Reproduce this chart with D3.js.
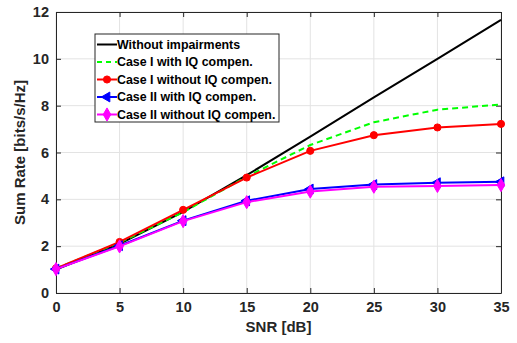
<!DOCTYPE html>
<html><head><meta charset="utf-8">
<script src="https://cdn.jsdelivr.net/npm/d3@7"></script>
<style>body{margin:0;background:#fff}svg{display:block}text{font-family:"Liberation Sans",Arial,sans-serif;font-weight:bold}</style>
</head><body><svg id="c" width="517" height="343"></svg>
<script>
const snr = [0,5,10,15,20,25,30,35];
const noImpair = [1.0,2.1,3.46,5.03,6.68,8.35,10.0,11.66];
const case1With = [1.05,2.15,3.45,4.97,6.32,7.29,7.83,8.05];
const case1Without = [1.05,2.18,3.55,4.93,6.07,6.74,7.07,7.22];
const case2With = [1.02,2.02,3.09,3.94,4.44,4.63,4.71,4.75];
const case2Without = [1.02,1.99,3.07,3.88,4.33,4.54,4.57,4.61];
const xTicks = [0,5,10,15,20,25,30,35];
const yTicks = [0,2,4,6,8,10,12];
const names = ["Without impairments","Case I with IQ compen.","Case I without IQ compen.","Case II with IQ compen.","Case II without IQ compen."];

const series = [
 {name:names[0], vals:noImpair, color:"#000000", dash:null, marker:null},
 {name:names[1], vals:case1With, color:"#00ff00", dash:"6,4", marker:null},
 {name:names[2], vals:case1Without, color:"#ff0000", dash:null, marker:"circle"},
 {name:names[3], vals:case2With, color:"#0000ff", dash:null, marker:"triangle"},
 {name:names[4], vals:case2Without, color:"#ff00ff", dash:null, marker:"diamond"}
];

const L=56,R=501,T=12,B=293;
const x=d3.scaleLinear().domain([0,35]).range([L,R]);
const y=d3.scaleLinear().domain([0,12]).range([B,T]);
const svg=d3.select("#c");

// grid
svg.append("g").selectAll("line").data(xTicks).join("line")
 .attr("x1",d=>x(d)).attr("x2",d=>x(d)).attr("y1",T).attr("y2",B)
 .attr("stroke","#e3e3e3").attr("stroke-width",1);
svg.append("g").selectAll("line").data(yTicks).join("line")
 .attr("y1",d=>y(d)).attr("y2",d=>y(d)).attr("x1",L).attr("x2",R)
 .attr("stroke","#e3e3e3").attr("stroke-width",1);

// axes
const ax=d3.axisBottom(x).tickValues(xTicks).tickSizeInner(-5).tickSizeOuter(0).tickPadding(9);
const ay=d3.axisLeft(y).tickValues(yTicks).tickSizeInner(-5).tickSizeOuter(0).tickPadding(7);
const gx=svg.append("g").attr("transform",`translate(0,${B})`).call(ax);
const gy=svg.append("g").attr("transform",`translate(${L},0)`).call(ay);
const gxt=svg.append("g").attr("transform",`translate(0,${T})`).call(d3.axisTop(x).tickValues(xTicks).tickSizeInner(-5).tickSizeOuter(0).tickFormat(""));
const gyr=svg.append("g").attr("transform",`translate(${R},0)`).call(d3.axisRight(y).tickValues(yTicks).tickSizeInner(-5).tickSizeOuter(0).tickFormat(""));
[gx,gy,gxt,gyr].forEach(g=>{
 g.select(".domain").attr("stroke","#262626").attr("stroke-width",1);
 g.selectAll(".tick line").attr("stroke","#262626");
 g.selectAll(".tick text").attr("fill","#262626").style("font-size","14.5px").style("font-weight","bold").style("font-family","'Liberation Sans',Arial,sans-serif");
});

// lines
const line=d3.line().x((d,i)=>x(snr[i])).y(d=>y(d));
const sym={circle:d3.symbol().type(d3.symbolCircle).size(40),
 triangle:d3.symbol().type(d3.symbolTriangle).size(42),
 diamond:d3.symbol().type(d3.symbolDiamond).size(50)};
function drawMarker(g,type,cx,cy,color){
 const p=g.append("path").attr("d",sym[type]()).attr("fill",color).attr("stroke",color).attr("stroke-width",1);
 if(type==="triangle") p.attr("transform",`translate(${cx},${cy}) rotate(-90)`);
 else p.attr("transform",`translate(${cx},${cy})`);
}
series.forEach(s=>{
 const g=svg.append("g");
 g.append("path").datum(s.vals).attr("d",line).attr("fill","none").attr("stroke",s.color)
  .attr("stroke-width",2).attr("stroke-dasharray",s.dash);
 if(s.marker) s.vals.forEach((v,i)=>drawMarker(g,s.marker,x(snr[i]),y(v),s.color));
});

// legend
const lg=svg.append("g");
lg.append("rect").attr("x",95).attr("y",34).attr("width",184).attr("height",88)
 .attr("fill","#fff").attr("stroke","#262626").attr("stroke-width",1);
const rowY=[44.5,62,79.5,97,114.5];
series.forEach((s,i)=>{
 const yy=rowY[i];
 lg.append("line").attr("x1",97).attr("x2",117).attr("y1",yy).attr("y2",yy)
  .attr("stroke",s.color).attr("stroke-width",2).attr("stroke-dasharray",s.dash?"5,4":null);
 if(s.marker) drawMarker(lg,s.marker,107,yy,s.color);
 lg.append("text").attr("x",117).attr("y",yy).attr("dy","0.35em").text(s.name)
  .style("font-size","12.4px").attr("fill","#000");
});

// axis labels
svg.append("text").attr("x",(L+R)/2).attr("y",332).attr("text-anchor","middle")
 .style("font-size","15px").attr("fill","#262626").text("SNR [dB]");
svg.append("text").attr("transform",`translate(25,${(T+B)/2}) rotate(-90)`).attr("text-anchor","middle")
 .style("font-size","15px").attr("fill","#262626").text("Sum Rate [bits/s/Hz]");
</script></body></html>
